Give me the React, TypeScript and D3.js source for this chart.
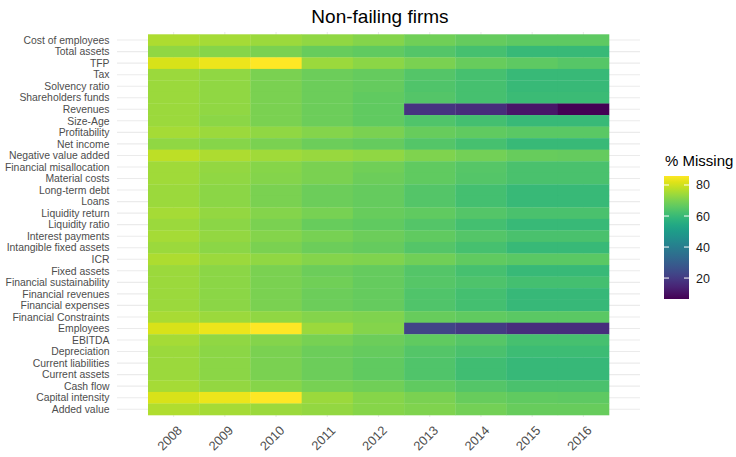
import React from "react";
import * as d3 from "d3";

const years = ["2008", "2009", "2010", "2011", "2012", "2013", "2014", "2015", "2016"];

const variables = [
  "Cost of employees", "Total assets", "TFP", "Tax", "Solvency ratio", "Shareholders funds",
  "Revenues", "Size-Age", "Profitability", "Net income", "Negative value added",
  "Financial misallocation", "Material costs", "Long-term debt", "Loans", "Liquidity return",
  "Liquidity ratio", "Interest payments", "Intangible fixed assets", "ICR", "Fixed assets",
  "Financial sustainability", "Financial revenues", "Financial expenses", "Financial Constraints",
  "Employees", "EBITDA", "Depreciation", "Current liabilities", "Current assets", "Cash flow",
  "Capital intensity", "Added value",
];

// % missing per variable (rows) and year (columns 2008..2016)
const costOfEmployees = [76, 75, 74, 72.5, 71, 68.5, 67, 66, 66];
const totalAssets = [72.5, 71.5, 70, 67.5, 66.5, 64.5, 62.5, 60, 60];
const tfp = [81, 83.5, 85.8, 74, 72, 70, 67.5, 66, 65];
const tax = [74, 72.5, 70, 68, 67, 64.5, 62.5, 60, 60];
const solvencyRatio = [74, 72.5, 70, 68, 67, 64, 62.5, 60, 60];
const shareholdersFunds = [74, 72.5, 70, 68, 66.5, 64.5, 62.5, 60.5, 60.5];
const revenues = [74, 72.5, 70, 68, 66.5, 18.5, 16.5, 11, 6.5];
const sizeAge = [74, 72, 70, 68, 66.5, 64, 62, 60, 60];
const profitability = [75, 74, 72.5, 71, 70, 67.5, 66.5, 65.5, 65.5];
const netIncome = [72.5, 71.5, 70, 68, 67, 64.5, 62.5, 60, 60];
const negativeValueAdded = [78, 76, 74.5, 73.5, 72.5, 70.5, 69, 67.5, 67];
const financialMisallocation = [74.5, 73, 71.5, 70, 68.5, 66.5, 65, 63, 63];
const materialCosts = [74.5, 72.5, 71, 70, 68, 66.5, 64.5, 63, 63];
const longTermDebt = [74, 72, 70, 68, 67, 64.5, 62, 60, 60];
const loans = [74, 72, 70, 68, 67, 64.5, 62, 60, 60];
const liquidityReturn = [75, 73, 71, 69.5, 67.5, 66.5, 64.5, 63, 63];
const liquidityRatio = [74, 72, 70, 67.5, 66.5, 64.5, 62, 60, 60];
const interestPayments = [75, 73, 71, 69.5, 68, 66.5, 64.5, 63, 63];
const intangibleFixedAssets = [74, 72, 70, 68, 67, 64.5, 62.5, 60, 60];
const icr = [76, 74, 72.5, 71, 70.5, 68.5, 66.5, 65.5, 65.5];
const fixedAssets = [74, 72, 70, 68, 67, 64.5, 62.5, 60, 60];
const financialSustainability = [74, 72, 70, 68.5, 67, 65, 63.5, 62, 62];
const financialRevenues = [74, 72, 70, 68, 67, 64, 62, 59.5, 59.5];
const financialExpenses = [74, 72, 70, 68, 67, 64, 62, 59.5, 59.5];
const financialConstraints = [75.5, 74, 72.5, 71, 70.5, 67.5, 66.5, 65.5, 65.5];
const employees = [81, 83.5, 85.8, 74, 71, 22.4, 20, 17, 17];
const ebitda = [75, 72.5, 71, 69.5, 68, 66.5, 65, 62.5, 62.5];
const depreciation = [74, 72, 70, 68, 67, 64.5, 63, 61, 61];
const currentLiabilities = [74, 72, 70, 68, 66.5, 64, 61.5, 59.5, 59.5];
const currentAssets = [74, 72, 70, 68, 66.5, 64, 61.5, 59.5, 59.5];
const cashFlow = [75, 73, 71.5, 69.5, 68.5, 66.5, 64.5, 63, 63];
const capitalIntensity = [81, 83.5, 85.8, 74, 71.5, 70, 67.5, 66.5, 66];
const addedValue = [76.5, 75, 74, 73, 71.5, 70.5, 69, 67.5, 67.5];

const rowValues = [
  costOfEmployees, totalAssets, tfp, tax, solvencyRatio, shareholdersFunds, revenues, sizeAge,
  profitability, netIncome, negativeValueAdded, financialMisallocation, materialCosts, longTermDebt,
  loans, liquidityReturn, liquidityRatio, interestPayments, intangibleFixedAssets, icr, fixedAssets,
  financialSustainability, financialRevenues, financialExpenses, financialConstraints, employees,
  ebitda, depreciation, currentLiabilities, currentAssets, cashFlow, capitalIntensity, addedValue,
];

const legendTicks = [20, 40, 60, 80];
const title = "Non-failing firms";
const legendTitle = "% Missing";

const W = 736;
const H = 457;
const FONT = "Arial, 'Liberation Sans', Helvetica, sans-serif";

export default function App() {
  const cells = variables.flatMap((v, i) =>
    years.map((y, j) => ({ variable: v, year: y, value: rowValues[i][j] }))
  );
  const extent = d3.extent(cells, (d) => d.value) as [number, number];
  const color = d3.scaleSequential(d3.interpolateViridis).domain(extent);

  const panelLeft = 117;
  const panelRight = 640;
  const panelTop = 32;
  const panelBottom = 417;

  const x = d3.scaleBand<string>().domain(years).range([148, 609]).padding(0);
  const y = d3.scaleBand<string>().domain(variables).range([34.3, 415]).padding(0);

  const barX = 664;
  const barW = 25;
  const barTop = 176;
  const barBottom = 299;
  const legendScale = d3.scaleLinear().domain(extent).range([barBottom, barTop]);
  const gradStops = d3.range(0, 1.0001, 0.05);

  return (
    <svg width={W} height={H} style={{ display: "block", position: "absolute", left: 0, top: 0 }}>
      <rect width={W} height={H} fill="#ffffff" />
      <defs>
        <linearGradient id="vir" x1="0" y1="1" x2="0" y2="0">
          {gradStops.map((t) => (
            <stop key={t} offset={`${t * 100}%`} stopColor={d3.interpolateViridis(t)} />
          ))}
        </linearGradient>
      </defs>
      {/* gridlines */}
      {variables.map((v) => (
        <line
          key={"h" + v}
          x1={panelLeft}
          x2={panelRight}
          y1={(y(v) as number) + y.bandwidth() / 2}
          y2={(y(v) as number) + y.bandwidth() / 2}
          stroke="#ebebeb"
          strokeWidth={1.1}
        />
      ))}
      {years.map((yr) => (
        <line
          key={"v" + yr}
          x1={(x(yr) as number) + x.bandwidth() / 2}
          x2={(x(yr) as number) + x.bandwidth() / 2}
          y1={panelTop}
          y2={panelBottom}
          stroke="#ebebeb"
          strokeWidth={1.1}
        />
      ))}
      {/* tiles */}
      {cells.map((c) => (
        <rect
          key={c.variable + c.year}
          x={x(c.year)}
          y={y(c.variable)}
          width={x.bandwidth() + 0.3}
          height={y.bandwidth() + 0.3}
          fill={color(c.value)}
        />
      ))}
      {/* y labels */}
      {variables.map((v) => (
        <text
          key={"yl" + v}
          x={109.5}
          y={(y(v) as number) + y.bandwidth() / 2}
          dy="0.36em"
          textAnchor="end"
          fontFamily={FONT}
          fontSize={10.4}
          fill="#4d4d4d"
        >
          {v}
        </text>
      ))}
      {/* x labels */}
      {years.map((yr) => {
        const cx = (x(yr) as number) + x.bandwidth() / 2 - 4;
        const cy = 438;
        return (
          <text
            key={"xl" + yr}
            transform={`translate(${cx},${cy}) rotate(-45)`}
            textAnchor="middle"
            dy="0.35em"
            fontFamily={FONT}
            fontSize={12.8}
            fill="#4d4d4d"
          >
            {yr}
          </text>
        );
      })}
      {/* title */}
      <text x={380} y={23} textAnchor="middle" fontFamily={FONT} fontSize={19} fill="#000">
        {title}
      </text>
      {/* legend */}
      <text x={665} y={166} fontFamily={FONT} fontSize={15} fill="#000">
        {legendTitle}
      </text>
      <rect x={barX} y={barTop} width={barW} height={barBottom - barTop} fill="url(#vir)" />
      {legendTicks.map((t) => (
        <g key={"lt" + t}>
          <line x1={barX} x2={barX + 5} y1={legendScale(t)} y2={legendScale(t)} stroke="#fff" strokeWidth={1} />
          <line x1={barX + barW - 5} x2={barX + barW} y1={legendScale(t)} y2={legendScale(t)} stroke="#fff" strokeWidth={1} />
          <text x={696} y={legendScale(t)} dy="0.36em" fontFamily={FONT} fontSize={12.5} fill="#1a1a1a">
            {t}
          </text>
        </g>
      ))}
    </svg>
  );
}
